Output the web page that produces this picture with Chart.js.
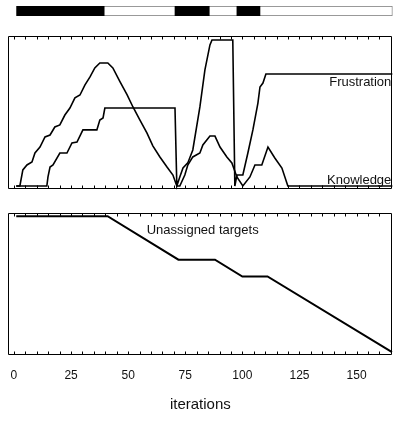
<!DOCTYPE html>
<html>
<head>
<meta charset="utf-8">
<script src="https://cdn.jsdelivr.net/npm/chart.js@4.4.1/dist/chart.umd.min.js"></script>
<style>
  body { margin: 0; background: #fff; }
  #wrap { position: relative; width: 400px; height: 421px; }
  canvas { position: absolute; left: 0; }
</style>
</head>
<body>
<div id="wrap">
  <canvas id="bar" width="400" height="22" style="top:0"></canvas>
  <canvas id="top" width="400" height="170" style="top:30px"></canvas>
  <canvas id="bottom" width="400" height="221" style="top:200px"></canvas>
</div>
<script>
// iterations axis
const iterTicks = [0, 5, 10, 15, 20, 25, 30, 35, 40, 45, 50, 55, 60, 65, 70, 75, 80,
                   85, 90, 95, 100, 105, 110, 115, 120, 125, 130, 135, 140, 145, 150, 155, 160, 165];
const tickLabels = ['0', '25', '50', '75', '100', '125', '150'];

// top strip: black periods
const periodStart = [1.2, 70.5, 97.6];
const periodEnd = [39.5, 85.5, 107.7];
const stripRange = [1.2, 165.7];

// knowledge
const knowledgeX = [1, 2.6, 3.9, 5.7, 7.9, 9.2, 11.4, 13.6, 15.8, 17.9, 20.1, 22.3, 24.5, 26.7, 28.9,
  31.1, 33.3, 35.4, 37.6, 41.1, 43.3, 46.4, 49.5, 52.1, 55.1, 58.2, 60.8, 63.9, 67, 69.6,
  71.3, 72.6, 74.8, 76.1, 78.3, 81.4, 82.7, 85.8, 88, 90.2, 93.2, 95.4, 97.6, 100.2, 103.3,
  105.5, 108.5, 111.2, 114.2, 117.3, 119.9, 165.7];
const knowledgeY = [0, 0, 11, 14.4, 16.4, 22.6, 26.7, 33.6, 34.9, 40.4, 41.8, 48.6, 53.4, 60.3, 62.3,
  69.2, 74.7, 80.8, 84.2, 84.2, 80.8, 71.5, 62.5, 54.1, 45.2, 36.3, 27.5, 19.9, 13, 7.5,
  0, 0, 7.5, 14.4, 19.9, 22.6, 28.1, 34.2, 34.2, 26.7, 19.9, 15.8, 6.2, 0, 6.2,
  14.4, 14.4, 26.7, 19.2, 12.3, 0, 0];

// frustration
const frustrationX = [1, 14.4, 14.9, 15.8, 17.1, 20.1, 23.2, 25.4, 27.6, 30.2, 36.3, 37.6, 39, 39.8, 70.5,
  71.3, 72.6, 74, 76.1, 78.3, 81.4, 83.6, 85.8, 86.7, 95.8, 96.7, 97.6, 100.2, 102.4, 104.6,
  106.8, 107.7, 109, 110.3, 165.7];
const frustrationY = [0, 0, 6.2, 13, 14.4, 22.6, 22.6, 29.5, 30.1, 38.4, 38.4, 45.2, 46.6, 53.4, 53.4,
  0, 6.2, 12.3, 15.8, 24.7, 54.1, 79.5, 96.6, 100, 100, 0, 7.5, 7.5, 22.6, 38.4,
  56.8, 67.8, 70.5, 76.7, 76.7];

// unassigned targets
const targetsX = [1, 41, 72, 88, 100, 111, 165.5];
const targetsY = [97, 97, 66, 66, 54, 54, 0];

const xMin = -2.6, xMax = 165.8;

Chart.defaults.font.family = "'Liberation Sans', Arial, sans-serif";
Chart.defaults.color = '#111';

function toPoints(xs, ys) {
    return xs.map((x, i) => ({x: x, y: ys[i]}));
}

function blackLine(label, points, width) {
    return {
        label: label,
        data: points,
        borderColor: '#000',
        backgroundColor: '#000',
        borderWidth: width,
        pointRadius: 0,
        tension: 0,
        fill: false
    };
}

// cadre + petites graduations vers l'intérieur
const frameTicks = {
    id: 'frameTicks',
    afterDatasetsDraw(chart) {
        const {ctx, chartArea: a} = chart;
        const sx = chart.scales.x;
        const l = Math.floor(a.left) + 0.5, r = Math.floor(a.right) - 0.5;
        const t = Math.floor(a.top) + 0.5, b = Math.floor(a.bottom) - 0.5;
        ctx.save();
        ctx.strokeStyle = '#000';
        ctx.lineWidth = 1;
        ctx.beginPath();
        ctx.rect(l, t, r - l, b - t);
        iterTicks.forEach(v => {
            const px = Math.round(sx.getPixelForValue(v)) + 0.5;
            if (px <= l + 1 || px >= r - 1) return;
            ctx.moveTo(px, b); ctx.lineTo(px, b - 3);
            ctx.moveTo(px, t); ctx.lineTo(px, t + 3);
        });
        ctx.stroke();
        ctx.restore();
    }
};

// textes dans le graphe
const notes = {
    id: 'notes',
    afterDatasetsDraw(chart, args, opts) {
        const {ctx} = chart;
        ctx.save();
        ctx.font = "13px 'Liberation Sans', Arial, sans-serif";
        ctx.fillStyle = '#111';
        ctx.textBaseline = 'alphabetic';
        (opts.items || []).forEach(n => {
            ctx.textAlign = n.align;
            ctx.fillText(n.text, chart.scales.x.getPixelForValue(n.x), chart.scales.y.getPixelForValue(n.y));
        });
        ctx.restore();
    }
};

new Chart(document.getElementById('bar'), {
    type: 'bar',
    data: {
        labels: ['strip'],
        datasets: [
            {data: [stripRange], backgroundColor: '#fff', borderColor: '#777', borderWidth: 1,
             borderSkipped: false, grouped: false, barPercentage: 1, categoryPercentage: 1, order: 2}
        ].concat(periodStart.map((s, i) => ({
            data: [[s, periodEnd[i]]], backgroundColor: '#000', borderWidth: 0,
            grouped: false, barPercentage: 1, categoryPercentage: 1, order: 1
        })))
    },
    options: {
        indexAxis: 'y',
        responsive: false,
        animation: false,
        layout: {padding: {left: 8, right: 7.3, top: 6, bottom: 6}},
        plugins: {legend: {display: false}, tooltip: {enabled: false}},
        scales: {
            x: {type: 'linear', min: xMin, max: xMax, display: false},
            y: {display: false}
        }
    }
});

new Chart(document.getElementById('top'), {
    type: 'line',
    data: {
        datasets: [
            blackLine('Knowledge', toPoints(knowledgeX, knowledgeY), 1.6),
            blackLine('Frustration', toPoints(frustrationX, frustrationY), 1.6)
        ]
    },
    options: {
        responsive: false,
        animation: false,
        layout: {padding: {left: 8, right: 7.3, top: 6, bottom: 10.5}},
        plugins: {
            legend: {display: false},
            tooltip: {enabled: false},
            notes: {items: [
                {text: 'Frustration', x: 165.2, y: 68.5, align: 'right'},
                {text: 'Knowledge', x: 165.2, y: 1.7, align: 'right'}
            ]}
        },
        scales: {
            x: {type: 'linear', min: xMin, max: xMax, display: false},
            y: {type: 'linear', min: -2.4, max: 102.7, display: false}
        }
    },
    plugins: [frameTicks, notes]
});

new Chart(document.getElementById('bottom'), {
    type: 'line',
    data: {
        datasets: [
            blackLine('Unassigned targets', toPoints(targetsX, targetsY), 2)
        ]
    },
    options: {
        responsive: false,
        animation: false,
        layout: {padding: {left: 8, right: 7.3, top: 13, bottom: 3}},
        plugins: {
            legend: {display: false},
            tooltip: {enabled: false},
            notes: {items: [
                {text: 'Unassigned targets', x: 58.1, y: 84.5, align: 'left'}
            ]}
        },
        scales: {
            x: {
                type: 'linear', min: xMin, max: xMax,
                afterBuildTicks: (scale) => { scale.ticks = iterTicks.map(v => ({value: v})); },
                grid: {display: false},
                border: {display: false},
                ticks: {
                    autoSkip: false, maxRotation: 0, padding: 5,
                    font: {size: 12}, color: '#111',
                    callback: (v) => tickLabels.includes(String(v)) ? String(v) : ''
                },
                title: {display: true, text: 'iterations', font: {size: 15}, color: '#111',
                        padding: {top: 8.6, bottom: 4}}
            },
            y: {type: 'linear', min: -2.03, max: 99.3, display: false}
        }
    },
    plugins: [frameTicks, notes]
});
</script>
</body>
</html>
